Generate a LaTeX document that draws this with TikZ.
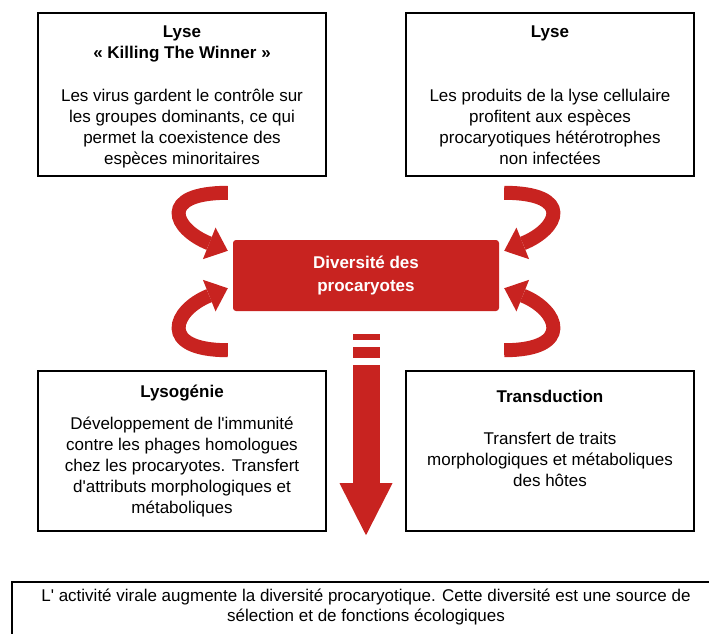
\documentclass[tikz,border=0pt]{standalone}
\usepackage{fontspec}
\setmainfont{Liberation Sans}
\usepackage{xcolor}
\usetikzlibrary{arrows.meta,positioning}
\definecolor{virred}{RGB}{200,35,32}

\begin{document}
\begin{tikzpicture}[x=1pt,y=-1pt,font=\fontsize{17}{21}\selectfont,
  box/.style={draw, line width=1.8pt, minimum width=288pt, align=center, inner sep=2pt},
  curvarr/.style={draw=virred, line width=14pt, -{Triangle[length=20pt,width=34pt,line width=0pt]}}]

\useasboundingbox (0,0) rectangle (709,633);
\clip (0,0) rectangle (709,633);

\node(div) at (366,275.5)[fill=virred, rounded corners=3pt, minimum width=266pt, minimum height=71pt, text=white, font=\fontsize{17}{21}\selectfont\bfseries, align=center]{Diversité des\\[2pt]procaryotes};

\node(ktw)[box, minimum height=163pt, text height=147pt, text depth=6pt, above=63pt of div, xshift=-184pt]{\textbf{Lyse}\\\textbf{« Killing The Winner »}\\[22pt]Les virus gardent le contrôle sur\\les groupes dominants, ce qui\\permet la coexistence des\\espèces minoritaires};
\node(lyse)[box, minimum height=163pt, text height=147pt, text depth=6pt, above=63pt of div, xshift=184pt]{\textbf{Lyse}\\[43pt]Les produits de la lyse cellulaire\\profitent aux espèces\\procaryotiques hétérotrophes\\non infectées};

\node(lysog)[box, minimum height=160pt, below=59pt of div, xshift=-184pt]{\textbf{Lysogénie}\\[11pt]Développement de l\textquotesingle immunité\\contre les phages homologues\\chez les procaryotes. Transfert\\d\textquotesingle attributs morphologiques et\\métaboliques};
\node(transd)[box, minimum height=160pt, below=59pt of div, xshift=184pt]{\textbf{Transduction}\\[21pt]Transfert de traits\\morphologiques et métaboliques\\des hôtes\\[4pt]~};

\node(concl)[box, minimum width=708pt, inner ysep=6.5pt, text depth=40pt, font=\fontsize{17}{20}\selectfont, below=270pt of div]{L\textquotesingle{} activité virale augmente la diversité procaryotique. Cette diversité est une source de\\sélection et de fonctions écologiques};

% curved arrows on both sides of the centre
\coordinate (ul1) at ([xshift=-5pt,yshift=47pt]div.north west);
\coordinate (ul2) at ([xshift=-5pt,yshift=-11pt]div.north west);
\coordinate (ll1) at ([xshift=-5pt,yshift=-39pt]div.south west);
\coordinate (ll2) at ([xshift=-5pt,yshift=23pt]div.south west);
\coordinate (ur1) at ([xshift=5pt,yshift=47pt]div.north east);
\coordinate (ur2) at ([xshift=5pt,yshift=-11pt]div.north east);
\coordinate (lr1) at ([xshift=5pt,yshift=-39pt]div.south east);
\coordinate (lr2) at ([xshift=5pt,yshift=23pt]div.south east);

\draw[curvarr] (ul1) .. controls +(-70,0) and +(-55,-22) .. (ul2);
\draw[curvarr] (ll1) .. controls +(-70,0) and +(-55,22) .. (ll2);
\draw[curvarr] (ur1) .. controls +(70,0) and +(55,-22) .. (ur2);
\draw[curvarr] (lr1) .. controls +(70,0) and +(55,22) .. (lr2);

\coordinate (dtop) at ([yshift=-23pt]div.south);
\coordinate (dtip) at ([yshift=46pt]concl.north);
\draw[virred, line width=27pt, dash pattern=on 6pt off 7pt on 11pt off 7pt on 400pt, -{Triangle[length=52pt,width=53pt,line width=0pt]}](dtop)--(dtip);

\end{tikzpicture}
\end{document}
